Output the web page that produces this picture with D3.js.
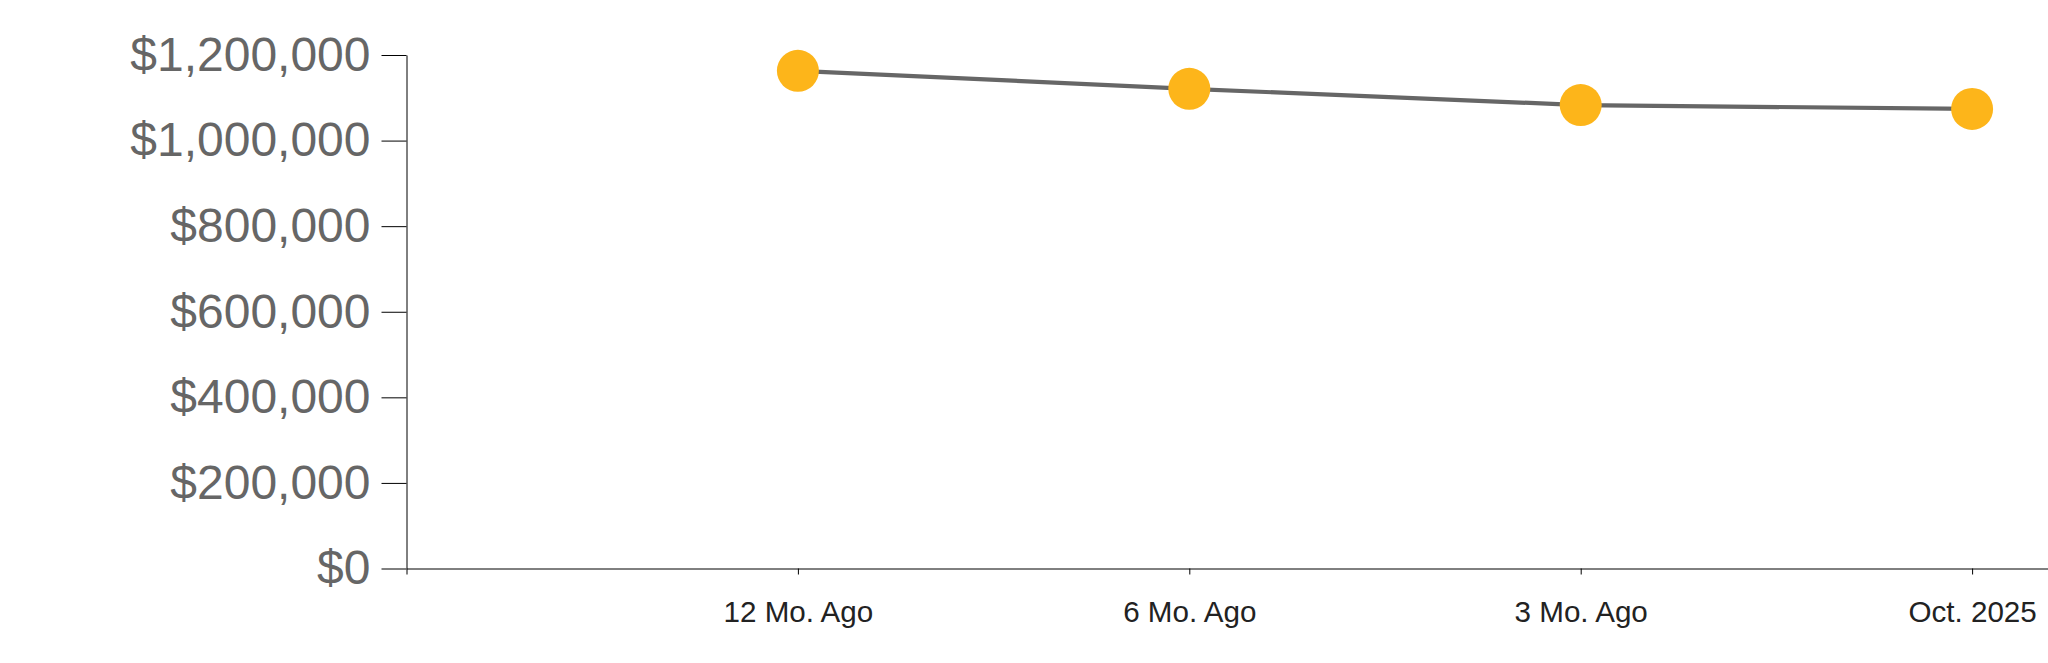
<!DOCTYPE html>
<html>
<head>
<meta charset="utf-8">
<script src="https://cdn.jsdelivr.net/npm/d3@7/dist/d3.min.js"></script>
<style>
  html, body { margin: 0; padding: 0; background: #fff; overflow: hidden; }
  svg { display: block; }
</style>
</head>
<body>
<svg id="chart" width="2048" height="663"></svg>
<script>
const categories = ["12 Mo. Ago", "6 Mo. Ago", "3 Mo. Ago", "Oct. 2025"];
const values = [1163000, 1121000, 1083000, 1074000];
const yTicks = [0, 200000, 400000, 600000, 800000, 1000000, 1200000];

const svg = d3.select("#chart");
const mLeft = 406.5, mBottom = 568.5, mTop = 55;

const x = d3.scalePoint().domain(categories).range([mLeft, 2363.5]).padding(1);
const y = d3.scaleLinear().domain([0, 1200000]).range([mBottom, mTop]);

const fmt = v => "$" + d3.format(",")(v);

const yAxis = svg.append("g")
  .attr("transform", `translate(${mLeft},0)`)
  .call(d3.axisLeft(y).tickValues(yTicks).tickFormat(fmt).tickSize(25).tickSizeOuter(0).tickPadding(11));
yAxis.selectAll("text")
  .attr("font-family", "'Liberation Sans', Arial, sans-serif")
  .attr("font-size", 48)
  .attr("fill", "#666");
yAxis.selectAll("line, path").attr("stroke", "#000");

const xAxis = svg.append("g")
  .attr("transform", `translate(0,${mBottom})`)
  .call(d3.axisBottom(x).tickSize(6).tickPadding(26));
xAxis.selectAll("text")
  .attr("font-family", "'Liberation Sans', Arial, sans-serif")
  .attr("font-size", 29.6)
  .attr("fill", "#222");
xAxis.selectAll("line, path").attr("stroke", "#000");

const data = categories.map((c, i) => ({ c, v: values[i] }));

svg.append("path")
  .datum(data)
  .attr("fill", "none")
  .attr("stroke", "#666")
  .attr("stroke-width", 4.2)
  .attr("d", d3.line().x(d => x(d.c)).y(d => y(d.v)));

svg.selectAll("circle.pt")
  .data(data)
  .join("circle")
  .attr("class", "pt")
  .attr("cx", d => x(d.c))
  .attr("cy", d => y(d.v))
  .attr("r", 21)
  .attr("fill", "#FDB51A");
</script>
</body>
</html>
